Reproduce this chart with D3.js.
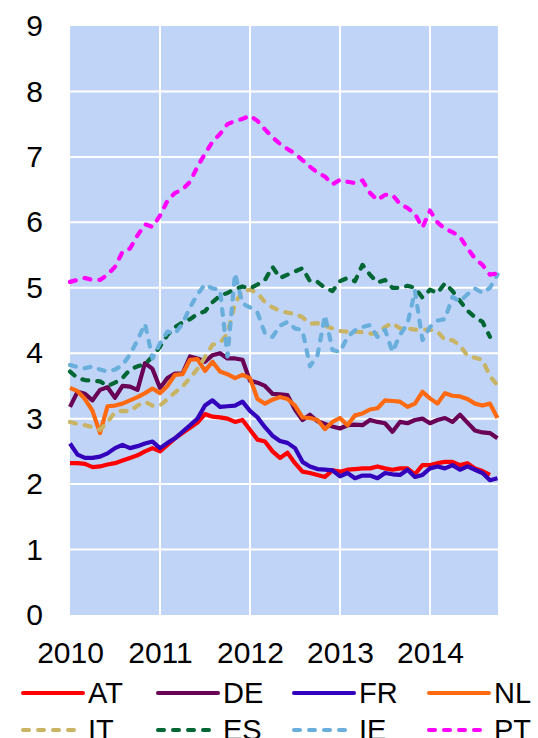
<!DOCTYPE html>
<html><head><meta charset="utf-8">
<script src="https://cdn.jsdelivr.net/npm/d3@7/dist/d3.min.js"></script>
<style>body{margin:0;background:#fff;overflow:hidden}svg{display:block}text{font-family:"Liberation Sans",Arial,sans-serif;fill:#000}</style>
</head><body><svg id="c" width="538" height="738"></svg>
<script>
const startYear = 2010;
const yearTicks = [2010, 2011, 2012, 2013, 2014];
const yTicks = [0,1,2,3,4,5,6,7,8,9];
const seriesNames = ["AT","DE","FR","NL","IT","ES","IE","PT"];
const seriesColors = ["#ff0000","#6a0055","#3300bb","#ff6a10","#c8b464","#006633","#6aaedc","#ff00ff"];
const seriesDashed = [false,false,false,false,true,true,true,true];

const AT = [2.32,2.32,2.31,2.26,2.27,2.3,2.32,2.36,2.4,2.44,2.5,2.55,2.5,2.6,2.7,2.78,2.86,2.94,3.07,3.03,3.02,3.0,2.95,2.98,2.83,2.68,2.65,2.5,2.4,2.48,2.32,2.19,2.17,2.14,2.11,2.21,2.19,2.22,2.23,2.24,2.24,2.27,2.24,2.22,2.24,2.24,2.15,2.29,2.29,2.32,2.34,2.34,2.29,2.32,2.24,2.2,2.14];
const DE = [3.18,3.41,3.38,3.28,3.44,3.48,3.32,3.5,3.49,3.44,3.85,3.76,3.47,3.62,3.69,3.69,3.95,3.92,3.87,3.97,4.0,3.92,3.92,3.9,3.58,3.55,3.5,3.38,3.37,3.36,3.14,2.98,3.06,2.96,2.92,2.88,2.85,2.9,2.91,2.9,2.98,2.95,2.93,2.8,2.95,2.93,2.98,3.0,2.93,2.98,3.01,2.95,3.06,2.94,2.82,2.79,2.78,2.7];
const FR = [2.62,2.45,2.4,2.4,2.42,2.47,2.55,2.6,2.55,2.58,2.62,2.65,2.55,2.63,2.7,2.8,2.9,3.0,3.2,3.28,3.18,3.19,3.2,3.26,3.12,3.02,2.87,2.74,2.66,2.63,2.55,2.34,2.27,2.23,2.22,2.21,2.12,2.17,2.09,2.13,2.13,2.09,2.17,2.15,2.14,2.22,2.11,2.14,2.24,2.27,2.24,2.29,2.22,2.27,2.22,2.17,2.06,2.09];
const NL = [3.47,3.42,3.3,3.12,2.78,3.19,3.2,3.23,3.28,3.33,3.39,3.46,3.39,3.5,3.67,3.68,3.9,3.91,3.73,3.87,3.72,3.68,3.62,3.67,3.62,3.3,3.23,3.29,3.33,3.3,3.2,3.02,3.01,2.98,2.84,2.95,3.01,2.9,3.05,3.08,3.14,3.16,3.28,3.27,3.26,3.18,3.23,3.41,3.31,3.23,3.39,3.35,3.34,3.3,3.23,3.2,3.23,3.01];
const IT = [2.95,2.92,2.9,2.87,2.83,2.95,3.1,3.12,3.11,3.2,3.26,3.2,3.2,3.3,3.4,3.49,3.62,3.76,3.94,4.13,4.16,4.3,4.76,4.95,4.97,4.92,4.78,4.7,4.65,4.62,4.6,4.55,4.45,4.46,4.42,4.38,4.34,4.33,4.33,4.32,4.3,4.3,4.4,4.46,4.38,4.38,4.36,4.36,4.36,4.33,4.2,4.2,4.12,3.96,3.93,3.9,3.65,3.51];
const ES = [3.72,3.62,3.59,3.58,3.57,3.5,3.55,3.62,3.75,3.8,3.83,3.95,4.1,4.28,4.4,4.47,4.52,4.6,4.64,4.78,4.88,4.92,4.98,5.02,4.99,5.05,5.12,5.32,5.15,5.2,5.25,5.3,5.1,5.09,5.0,4.95,5.1,5.15,5.1,5.35,5.2,5.08,5.12,5.0,5.0,5.03,5.0,4.85,4.97,4.92,5.07,4.95,4.8,4.65,4.55,4.48,4.25];
const IE = [3.82,3.79,3.77,3.8,3.75,3.72,3.75,3.82,3.98,4.2,4.45,3.92,4.15,4.33,4.3,4.45,4.7,4.9,5.05,4.99,4.97,3.95,5.22,4.76,4.7,4.62,4.3,4.25,4.42,4.48,4.38,4.35,3.8,3.97,4.58,4.05,4.02,4.25,4.35,4.4,4.43,4.25,4.36,4.02,4.28,4.45,4.95,4.2,4.4,4.5,4.52,4.86,4.79,4.9,4.99,4.92,5.0,5.2];
const PT = [5.09,5.12,5.15,5.12,5.12,5.2,5.32,5.55,5.6,5.8,5.97,5.93,6.1,6.33,6.45,6.5,6.62,6.85,7.05,7.23,7.35,7.5,7.55,7.58,7.63,7.55,7.42,7.3,7.2,7.12,7.05,6.95,6.85,6.76,6.7,6.58,6.65,6.62,6.6,6.64,6.45,6.34,6.42,6.42,6.28,6.22,6.13,5.92,6.18,6.0,5.9,5.85,5.78,5.6,5.45,5.35,5.2,5.22];
const seriesValues = [AT,DE,FR,NL,IT,ES,IE,PT];

const svg = d3.select("#c");
const x = d3.scaleLinear().domain([2010, 2014.756]).range([70, 498]);
const y = d3.scaleLinear().domain([0, 9]).range([615, 26]);

svg.append("rect").attr("x", x(2010)).attr("y", y(9)).attr("width", x(2014.756)-x(2010)).attr("height", y(0)-y(9)).attr("fill", "#c0d4f8");

const g = svg.append("g");
g.selectAll("line.h").data(yTicks.filter(d=>d>0 && d<9)).join("line")
  .attr("x1", x(2010)).attr("x2", x(2014.756)).attr("y1", d=>y(d)).attr("y2", d=>y(d))
  .attr("stroke", "#fff").attr("stroke-width", 2);
g.selectAll("line.v").data(yearTicks.slice(1)).join("line")
  .attr("x1", d=>x(d)).attr("x2", d=>x(d)).attr("y1", y(9)).attr("y2", y(0))
  .attr("stroke", "#fff").attr("stroke-width", 2);

const yAxis = d3.axisLeft(y).tickValues(yTicks).tickSize(0).tickPadding(27).tickFormat(d3.format("d"));
const ya = svg.append("g").attr("transform", `translate(${x(2010)},0)`).call(yAxis);
ya.select(".domain").remove();
ya.selectAll("text").attr("font-size", 30).attr("font-family", "Liberation Sans, Arial, sans-serif").attr("fill","#000");

const xAxis = d3.axisBottom(x).tickValues(yearTicks).tickSize(0).tickPadding(27).tickFormat(d3.format("d"));
const xa = svg.append("g").attr("transform", `translate(0,${y(0)})`).call(xAxis);
xa.select(".domain").remove();
xa.selectAll("text").attr("font-size", 30).attr("font-family", "Liberation Sans, Arial, sans-serif").attr("fill","#000");

const line = d3.line().x((d,i)=>x(startYear + i/12)).y(d=>y(d));
seriesValues.forEach((vals, k) => {
  svg.append("path").datum(vals).attr("d", line).attr("fill", "none")
    .attr("stroke", seriesColors[k]).attr("stroke-width", 4.2)
    .attr("stroke-linejoin", "round")
    .attr("stroke-linecap", seriesDashed[k] ? "round" : "butt")
    .attr("stroke-dasharray", seriesDashed[k] ? "6,9" : null);
});

const legX = [23, 158, 294, 429];
const legY = [693, 730];
seriesNames.forEach((name, k) => {
  const lx = legX[k % 4], ly = legY[Math.floor(k / 4)];
  svg.append("line").attr("x1", lx).attr("x2", lx + 60).attr("y1", ly).attr("y2", ly)
    .attr("stroke", seriesColors[k]).attr("stroke-width", 4)
    .attr("stroke-linecap", "round")
    .attr("stroke-dasharray", seriesDashed[k] ? "6,9" : null);
  svg.append("text").attr("x", lx + 65).attr("y", ly + 10).attr("font-size", 29).text(name);
});
</script></body></html>
